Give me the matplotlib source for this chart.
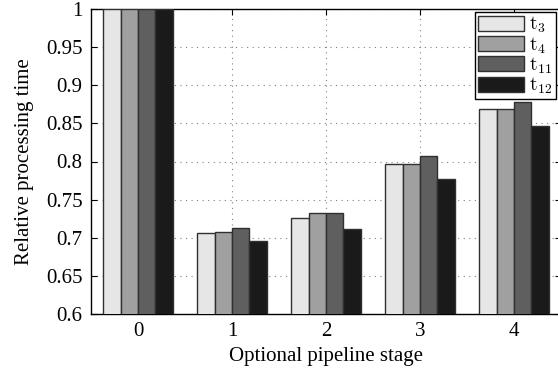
import matplotlib
matplotlib.use("Agg")
import matplotlib.pyplot as plt
import numpy as np

plt.rcParams['font.family'] = ['Liberation Serif', 'DejaVu Serif']
plt.rcParams['mathtext.fontset'] = 'cm'

stages = ['0', '1', '2', '3', '4']
series_names = ['$\\mathrm{t}_{3}$', '$\\mathrm{t}_{4}$', '$\\mathrm{t}_{11}$', '$\\mathrm{t}_{12}$']
t3 = [1.0, 0.706, 0.726, 0.797, 0.869]
t4 = [1.0, 0.708, 0.732, 0.797, 0.869]
t11 = [1.0, 0.713, 0.732, 0.807, 0.878]
t12 = [1.0, 0.696, 0.711, 0.777, 0.847]
series = [t3, t4, t11, t12]
colors = ['#e6e6e6', '#a0a0a0', '#5f5f5f', '#1a1a1a']
yticks = [0.6, 0.65, 0.7, 0.75, 0.8, 0.85, 0.9, 0.95, 1.0]
ytick_labels = ['0.6', '0.65', '0.7', '0.75', '0.8', '0.85', '0.9', '0.95', '1']

fig = plt.figure(figsize=(5.58, 3.74), dpi=100)
ax = fig.add_axes([91/558, 1-314/374, (561-91)/558, (314-9)/374])

x = np.arange(len(stages))
w = 0.186
for i, (vals, c, name) in enumerate(zip(series, colors, series_names)):
    ax.bar(x + (i - 1.5) * w, vals, width=w, color=c, edgecolor='#303030',
           linewidth=1.0, label=name, zorder=3)

ax.set_xlim(-0.5, 4.5)
ax.set_ylim(0.6, 1.0)
ax.set_xticks(x)
ax.set_xticklabels(stages)
ax.set_yticks(yticks)
ax.set_yticklabels(ytick_labels)
ax.tick_params(direction='in', top=True, right=True, labelsize=15, length=4, pad=6)
ax.grid(True, linestyle=(0, (1, 4)), color='#808080', linewidth=0.8, zorder=0)
ax.set_xlabel('Optional pipeline stage', fontsize=15, labelpad=4)
ax.set_ylabel('Relative processing time', fontsize=15, labelpad=9)
for s in ax.spines.values():
    s.set_linewidth(1.0)

leg = fig.legend(loc='upper left', bbox_to_anchor=(475/558, 1-12/374), fontsize=14,
                 frameon=True, fancybox=False, edgecolor='black', framealpha=1,
                 handlelength=2.35, handleheight=0.8, handletextpad=0.3,
                 labelspacing=0.0, borderpad=0.15, borderaxespad=0)
leg.get_frame().set_linewidth(1.0)

fig.savefig('out.png', dpi=100)
